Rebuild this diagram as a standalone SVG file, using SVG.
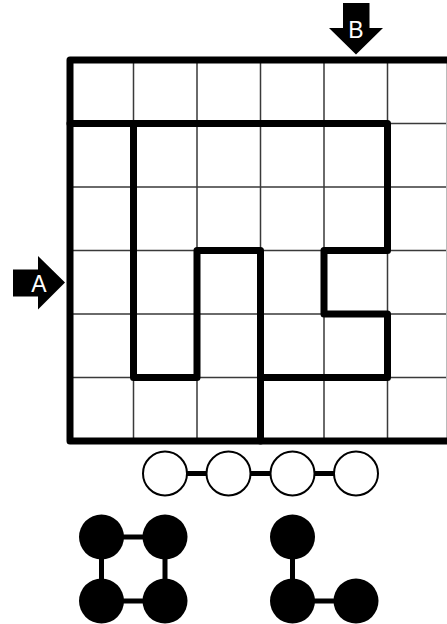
<svg xmlns="http://www.w3.org/2000/svg" width="447" height="624" viewBox="0 0 447 624">
<style>
.thin{stroke:#3a3a3a;stroke-width:1.5;fill:none}
.thick{stroke:#000;stroke-width:7;fill:none;stroke-linejoin:round;stroke-linecap:round}
.lbl{font-family:"Liberation Sans",Arial,sans-serif;font-size:23px;fill:#fff;text-anchor:middle}
.open{fill:#fff;stroke:#000;stroke-width:2}
.full{fill:#000}
.link{stroke:#000;stroke-width:5;fill:none}
</style>
<rect width="447" height="624" fill="#fff"/>
<g id="grid">
<path class="thin" d="M133.5 60V441M197 60V441M260.5 60V441M324 60V441M387.5 60V441M70 123.5H447M70 187H447M70 250.5H447M70 314H447M70 377.5H447"/>
<path d="M446.5 60V441" stroke="#bbb" stroke-width="1"/>
</g>
<g id="walls">
<path class="thick" d="M451 60H70V441H451"/>
<path class="thick" d="M70 123.5H387.5V250.5H324V314H387.5V377.5H260.5"/>
<path class="thick" d="M133.5 123.5V377.5H197V250.5H260.5V441"/>
</g>
<g id="arrowB">
<path d="M343 3H369.5V28H383L356 54.5L329 28H343Z" fill="#000"/>
<text class="lbl" x="356" y="37.5">B</text>
</g>
<g id="arrowA">
<path d="M13 269.5H38V256L65 282.5L38 309.5V296.5H13Z" fill="#000"/>
<text class="lbl" x="39" y="292">A</text>
</g>
<g id="connectors">
<path class="link" d="M165 473.5H356"/>
<path class="link" d="M101.5 537H165V601H101.5Z"/>
<path class="link" d="M292.5 537V601H356"/>
</g>
<g id="chain">
<circle class="open" cx="165" cy="473.5" r="22"/>
<circle class="open" cx="228.5" cy="473.5" r="22"/>
<circle class="open" cx="292.5" cy="473.5" r="22"/>
<circle class="open" cx="356" cy="473.5" r="22"/>
</g>
<g id="square">
<circle class="full" cx="101.5" cy="537" r="22.5"/>
<circle class="full" cx="165" cy="537" r="22.5"/>
<circle class="full" cx="101.5" cy="601" r="22.5"/>
<circle class="full" cx="165" cy="601" r="22.5"/>
</g>
<g id="ell">
<circle class="full" cx="292.5" cy="537" r="22.5"/>
<circle class="full" cx="292.5" cy="601" r="22.5"/>
<circle class="full" cx="356" cy="601" r="22.5"/>
</g>
</svg>
